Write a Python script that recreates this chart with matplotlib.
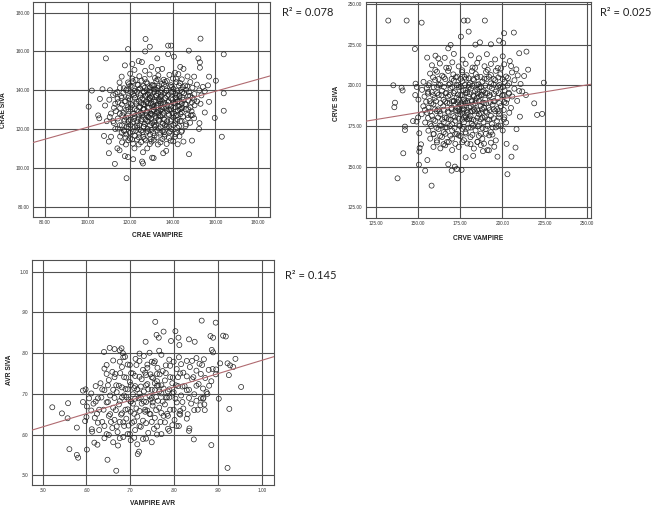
import matplotlib.pyplot as plt
import numpy as np

# ---- values ----
# CRAE panel
crae_vampire = [
    100.5, 102, 105.8, 105, 105.5, 108.6, 110, 112.8, 118.3, 119,
    127.2, 129.2, 132.7, 137.8, 139.2, 137.8, 140.5, 147.5, 153, 152,
    152.7, 152.7, 163.9, 160.2, 163.9, 163.9, 163, 159.7, 152.3, 147.6,
    149, 145, 136.9, 135.5, 125.6, 126, 130.3, 131, 121.4, 119,
    117.5, 115, 114, 111, 110, 107.7, 109, 107, 110.5, 115,
    117.5, 121, 124, 125.5, 127, 122, 120, 116, 130, 133,
    135, 127, 143.5, 145, 150, 141, 156.5, 157, 155, 157,
    155, 153, 150, 152.5, 150, 148.5, 146, 144, 141, 139,
    136, 133, 130, 128, 126, 124, 122, 120, 118, 116,
    113, 112, 111, 113, 112, 114, 116, 117, 119, 121,
    124.3, 126.8, 129.1, 131.6, 133.2, 135.7, 138.4, 140.1, 142.6, 144.2, 146.9,
    119.4, 121.2, 123.7, 125.3, 128.1, 130.6, 132.2, 134.8, 136.3, 139.1, 141.7, 143.4, 145.8, 148.2, 151.3,
    115.2, 118.3, 120.7, 122.1, 124.6, 126.2, 127.8, 129.4, 131.2, 133.5, 135.1, 136.9, 138.6, 140.3, 142.1, 144.7, 146.3, 149.2, 152.4, 154.1,
    113.1, 116.8, 119.3, 121.4, 123.2, 124.9, 126.5, 128.3, 129.8, 131.4, 133.1, 134.6, 136.2, 137.9, 139.4, 141.2, 143.1, 145.3, 147.2, 150.1, 153.4,
    110.2, 114.1, 117.8, 119.9, 122.3, 124.1, 125.8, 127.4, 128.9, 130.4, 131.9, 133.4, 134.8, 136.5, 138.1, 139.8, 141.6, 143.2, 145.1, 147.3, 149.2, 151.4,
    108.2, 112.4, 116.1, 118.8, 120.9, 122.8, 124.7, 126.6, 128.2, 129.7, 131.3, 132.9, 134.4, 135.9, 137.4, 139.2, 141.1, 142.8, 144.4, 146.2, 148.3, 150.2,
    113.3, 116.9, 119.2, 121.3, 123.1, 124.8, 126.3, 127.9, 129.4, 131.1, 132.6, 134.2, 135.7, 137.3, 139.1, 140.6, 142.4, 144.2, 146.1, 148.8,
    110.4, 114.2, 116.3, 118.1, 120.2, 122.1, 123.9, 125.7, 127.2, 128.8, 130.3, 132.1, 134.2, 136.1, 138.2, 140.3, 142.2, 144.8, 147.1, 149.3,
    112.3, 115.1, 117.2, 119.1, 121.3, 123.2, 125.1, 126.8, 128.4, 130.2, 132.1, 133.6, 135.3, 137.1, 139.2, 141.1, 143.4, 146.2, 148.1,
    114.2, 117.1, 119.3, 121.2, 123.3, 125.1, 126.4, 128.2, 130.1, 131.6, 133.3, 135.2, 137.1, 139.3, 142.1, 144.3,
    115.3, 118.2, 120.1, 122.3, 124.2, 126.1, 127.6, 129.3, 131.4, 134.1, 136.2, 138.3, 141.2, 143.1,
    116.2, 119.1, 121.3, 123.2, 125.1, 127.3, 129.2, 131.1, 134.2, 137.1, 140.2, 142.3,
    128.3, 129.2, 130.4, 131.1, 132.3, 133.2, 134.1, 127.1, 126.2, 128.4, 130.2, 132.4, 129.3, 131.2, 127.4, 133.3, 135.2, 134.3, 136.1, 126.4,
    142.2, 143.1, 144.2, 141.3, 143.3, 142.1, 144.4, 141.2,
    122.5, 127.6, 132.9, 137.2, 141.5,
    120.1, 123.4, 126.9, 130.1, 132.8, 135.9, 139.6, 142.9, 146.8,
    118.1, 120.6, 123.9, 126.3, 129.2, 131.8, 134.5, 137.1, 140.2, 143.8, 147.6,
    115.8, 119.1, 121.9, 124.6, 127.1, 129.4, 132.2, 134.1, 137.3, 139.1, 141.9, 144.5, 148.1,
    114.3, 117.4, 120.3, 122.9, 125.2, 127.9, 130.8, 133.8, 135.3, 137.8, 140.4, 142.3, 145.8, 148.9,
    115.3, 118.1, 120.2, 122.1, 124.1, 126.1, 128.8, 130.9, 132.3, 134.9, 136.8, 138.4, 140.2, 143.9, 147.3,
    115.1, 118.9, 121.9, 124.2, 125.6, 127.6, 129.9, 131.8, 133.2, 135.1, 137.9, 139.8, 141.4, 143.6, 146.9,
    117.3, 119.2, 121.8, 123.3, 125.3, 127.8, 129.9, 131.3, 133.3, 135.8, 137.3, 139.3, 141.3, 144.1,
    116.1, 118.3, 120.1, 122.2, 124.3, 126.2, 129.3, 131.2, 134.3, 136.3, 138.2, 140.3, 142.9,
    117.2, 119.8, 122.8, 125.8, 128.3, 130.8, 132.8, 135.8, 138.8, 141.8,
    117.8, 120.9, 124.1, 126.8, 129.6, 132.4, 135.1, 138.2,
]
crae_siva = [
    131.5, 139.8, 135.5, 127, 125.5, 156.4, 107.5, 102, 94.6, 161.2,
    166.4, 162.4, 156.4, 163, 163, 158.6, 157.3, 160.4, 166.6, 156.4,
    154.4, 151.6, 158.5, 144.9, 138.4, 129.4, 116, 125.7, 120, 107,
    114, 113.5, 108.7, 107.5, 103.2, 102.2, 105.2, 105, 104.4, 105.5,
    106, 109, 110, 116, 113.5, 116.4, 124, 140.5, 140, 144,
    152.8, 153.5, 155, 154.5, 160, 150.5, 148.5, 147, 152, 150.5,
    151, 150, 152, 151, 147, 149, 142.5, 147, 139.5, 134,
    128.5, 133, 135, 123, 125.5, 127, 121.5, 118.5, 116, 114,
    116, 112, 113.5, 110, 108, 112, 110, 115, 112, 118,
    120, 124, 128, 133, 137.5, 139, 136, 141, 144, 146,
    147.2, 145.8, 148.1, 146.3, 147.6, 145.4, 147.9, 146.0, 148.3, 145.6, 147.1,
    143.1, 144.6, 142.7, 144.9, 143.4, 142.5, 144.8, 143.2, 144.3, 142.6, 144.1, 143.7, 142.4, 144.2, 142.9,
    141.2, 140.3, 141.8, 139.6, 140.9, 142.1, 139.9, 141.5, 140.4, 142.2, 141.0, 139.7, 141.9, 140.6, 139.8, 141.6, 140.2, 141.3, 139.9, 141.7,
    138.2, 138.7, 136.9, 138.1, 139.2, 137.4, 138.8, 137.9, 136.8, 139.1, 138.3, 137.1, 138.6, 137.6, 139.0, 138.2, 136.9, 138.4, 137.2, 138.0, 137.3,
    135.1, 135.6, 134.2, 135.3, 136.1, 134.4, 135.8, 133.9, 135.2, 136.2, 134.1, 135.5, 134.6, 136.0, 134.3, 135.1, 136.2, 133.8, 135.0, 134.7, 136.1, 134.2,
    132.1, 130.9, 132.6, 131.2, 132.2, 133.1, 131.4, 132.7, 130.8, 133.2, 131.6, 132.3, 133.0, 130.9, 132.4, 131.6, 133.2, 131.9, 130.8, 132.6, 131.1, 132.2,
    129.2, 128.4, 130.1, 127.9, 129.6, 128.2, 130.2, 129.1, 127.8, 129.9, 128.6, 129.7, 128.1, 129.3, 130.1, 127.9, 129.5, 128.7, 130.2, 129.1,
    126.2, 125.4, 127.1, 125.9, 124.8, 126.6, 125.3, 127.2, 124.9, 126.1, 127.4, 125.6, 126.8, 124.7, 127.1, 125.9, 124.8, 126.4, 125.6, 127.2,
    123.1, 121.9, 124.2, 122.4, 123.6, 121.8, 124.1, 122.6, 123.9, 123.1, 121.9, 124.2, 122.8, 122.3, 124.1, 122.9, 124.0, 122.4, 123.2,
    120.2, 119.4, 121.1, 118.8, 120.6, 119.2, 121.2, 120.1, 119.6, 121.1, 120.3, 118.9, 121.2, 119.9, 120.6, 119.1,
    116.1, 117.2, 118.1, 116.4, 117.6, 115.9, 118.2, 117.1, 116.6, 118.1, 117.2, 118.2, 117.4, 116.2,
    113.1, 114.2, 112.4, 114.6, 113.2, 114.1, 112.2, 114.4, 113.1, 112.3, 113.6, 112.1,
    133.2, 136.1, 131.3, 134.2, 137.1, 129.8, 135.3, 137.2, 132.8, 126.2, 129.1, 132.3, 139.1, 142.2, 128.3, 126.9, 131.2, 140.1, 133.3, 130.2,
    134.2, 137.1, 133.1, 136.2, 130.1, 127.2, 139.1, 131.2,
    145.3, 144.1, 145.6, 144.7, 145.9,
    142.3, 142.8, 141.3, 142.6, 141.1, 142.9, 141.7, 142.4, 141.9,
    139.9, 138.9, 140.3, 139.2, 139.8, 140.4, 138.8, 139.9, 139.3, 140.2, 138.9,
    136.9, 136.0, 137.3, 136.2, 137.1, 135.9, 137.4, 136.5, 137.0, 135.8, 137.3, 136.3, 137.1,
    133.8, 134.2, 132.9, 134.1, 133.2, 133.9, 132.8, 134.3, 133.1, 133.8, 133.3, 134.2, 132.9, 133.7,
    130.8, 129.9, 131.1, 130.2, 131.2, 130.0, 130.9, 129.8, 131.1, 130.3, 130.8, 129.9, 131.0, 130.4, 130.1,
    127.9, 126.9, 128.1, 127.0, 128.2, 127.2, 127.9, 126.8, 128.1, 127.1, 127.8, 128.2, 126.9, 127.7, 127.2,
    124.9, 124.0, 125.2, 123.8, 125.0, 124.2, 125.1, 123.9, 124.8, 125.2, 124.0, 124.9, 124.3, 124.1,
    121.9, 121.0, 122.1, 120.9, 122.0, 121.2, 121.8, 122.2, 121.0, 121.9, 121.1, 122.1, 121.4,
    118.9, 118.0, 119.1, 118.2, 118.9, 117.9, 119.2, 118.3, 118.8, 118.1,
    115.5, 114.6, 115.7, 114.9, 114.7, 115.6, 114.8, 115.4,
]
crae_fit = (90.0, 0.309)   # intercept, slope of the drawn fit line
crae_r2 = "0.078"

# CRVE panel
crve_vampire = [
    132.3, 143.2, 152.1, 177.2, 179.4, 180, 189.6, 175.4, 201, 206.8,
    198.1, 200.5, 193.2, 186.7, 184, 169.3, 167.9, 148.1, 155.4, 162,
    214.3, 210, 215.3, 212.9, 224.6, 218.9, 220.6, 223.6, 214, 210,
    210.4, 208.4, 207.8, 205.4, 203, 202.5, 197.1, 192, 188.5, 182.7,
    178.2, 171.8, 173, 169.9, 167.9, 175.8, 158, 154.2, 150.5, 150.7,
    150.9, 151.7, 141.2, 137.8, 142.2, 142.2, 135.9, 136.3, 140.2, 135.3,
    140.8, 148.3, 149.2, 156, 149.1, 150, 147, 150.7, 155.5, 148.5,
    160.3, 165.8, 171.2, 176.4, 181.3, 186.1, 190.8, 195.7, 200.2, 204.4,
    158.2, 162.9, 166.7, 170.3, 174.1, 178.2, 182.3, 185.1, 189.4, 193.2, 197.3, 201.1, 205.2, 208.3,
    157.1, 161.2, 164.3, 167.8, 170.9, 173.2, 176.1, 178.8, 181.9, 184.2, 187.1, 190.3, 193.2, 196.1, 198.8, 202.2, 205.7, 209.1,
    153.2, 156.8, 160.1, 163.2, 166.1, 168.8, 171.2, 173.9, 176.2, 178.3, 180.8, 183.2, 185.9, 188.1, 190.7, 193.3, 195.8, 198.2, 201.3, 204.1, 207.2, 210.8,
    152.3, 155.2, 158.1, 161.3, 164.2, 166.8, 169.2, 171.8, 174.3, 176.9, 179.1, 181.4, 183.8, 186.2, 188.9, 191.1, 193.8, 196.2, 198.9, 201.3, 203.8, 207.1, 211.8,
    150.2, 153.8, 156.9, 159.8, 162.2, 165.1, 167.8, 170.2, 172.8, 175.1, 177.2, 179.9, 182.1, 184.8, 187.2, 189.8, 192.1, 194.8, 197.2, 199.9, 202.8, 205.9, 208.8,
    153.1, 156.2, 159.1, 161.8, 164.9, 167.2, 169.8, 172.1, 174.2, 176.3, 178.1, 180.2, 182.8, 185.1, 187.2, 189.3, 191.8, 194.2, 196.9, 199.1, 202.2, 205.1,
    152.1, 155.3, 158.2, 161.1, 163.2, 165.8, 168.1, 170.9, 173.2, 175.1, 177.3, 179.2, 181.1, 183.8, 186.2, 188.1, 190.8, 193.2, 195.8, 198.1, 201.2, 204.1,
    154.2, 157.1, 160.2, 162.8, 165.2, 168.1, 170.2, 172.1, 174.8, 177.2, 179.1, 181.8, 184.2, 186.1, 188.8, 191.2, 193.8, 196.8, 199.1, 202.2,
    156.1, 159.2, 162.1, 165.2, 167.1, 170.2, 173.1, 176.2, 178.1, 181.2, 184.1, 187.2, 190.1, 193.2, 196.1, 200.2,
    157.2, 161.1, 164.2, 167.1, 170.2, 174.1, 177.2, 181.1, 185.2, 188.1, 192.2, 196.1,
    159.1, 163.2, 166.1, 170.2, 174.1, 179.2, 183.1, 187.2, 191.1, 195.2,
    175.1, 177.2, 179.1, 181.2, 183.1, 178.2, 176.1, 180.2, 174.1, 182.2, 185.1, 187.2, 184.1, 173.2, 178.1, 189.1, 186.2, 171.1, 188.2, 180.1,
    160.2, 168.3, 176.2, 183.8, 191.3, 199.2,
    158.9, 162.1, 165.3, 169.9, 172.3, 175.2, 177.6, 180.1, 182.6, 185.1, 189.3, 192.1, 194.8, 197.6, 200.2, 203.3,
    156.2, 159.3, 162.2, 165.3, 168.1, 170.3, 172.9, 175.3, 177.8, 180.1, 182.3, 184.9, 187.3, 189.9, 192.4, 194.9, 197.4, 200.3, 203.1,
    155.8, 158.9, 161.3, 163.9, 166.3, 168.9, 171.1, 173.6, 176.1, 178.2, 180.6, 182.9, 185.3, 187.8, 189.9, 192.6, 194.9, 197.8, 200.6, 203.9,
    154.8, 157.8, 160.6, 163.3, 166.1, 168.7, 171.3, 173.4, 175.7, 177.7, 179.4, 181.8, 183.9, 186.1, 188.3, 190.3, 192.9, 195.3, 198.2, 201.1,
    154.1, 157.2, 160.1, 162.7, 165.2, 167.6, 169.9, 172.2, 174.6, 176.8, 178.9, 181.1, 183.2, 185.6, 187.9, 190.1, 192.4, 194.9, 197.7, 200.8,
    155.9, 159.1, 161.9, 164.3, 166.9, 169.3, 171.9, 174.1, 176.2, 178.4, 180.6, 182.9, 185.2, 187.3, 189.6, 192.2, 194.9, 197.8, 200.9,
    157.8, 160.9, 163.8, 166.2, 168.9, 171.6, 174.4, 177.1, 179.8, 182.6, 185.4, 188.2, 191.2, 194.2, 197.6,
    159.2, 163.1, 166.2, 169.1, 172.1, 175.2, 178.3, 182.2, 186.1, 190.2, 194.1,
    161.2, 165.1, 168.2, 172.1, 176.2, 181.1, 185.2, 189.1, 193.2,
]
crve_siva = [
    239.8, 239.8, 238.5, 239.8, 239.8, 233, 239.8, 229.9, 232, 232.4,
    227.5, 226, 225.2, 226.4, 225, 224.8, 222.7, 222.3, 217, 216.5,
    220.7, 219.7, 209.6, 205.7, 201.6, 188.9, 181.8, 182.4, 194, 196.5,
    180.7, 173, 161.7, 156.1, 145.3, 164, 156.1, 160, 159.5, 156.6,
    155.7, 150, 148.5, 147.5, 151.4, 148, 138.3, 147.5, 151.2, 159.2,
    161.5, 163.7, 158.2, 142.8, 172.5, 174.6, 186.5, 189.3, 198.5, 200,
    196.8, 194, 199, 196, 177.7, 180.2, 178, 170.5, 154, 201,
    218.2, 216.9, 219.3, 215.8, 218.4, 216.6, 219.1, 215.9, 217.8, 214.9,
    212.3, 213.4, 210.8, 214.1, 211.6, 213.2, 210.9, 213.8, 211.7, 213.1, 210.6, 212.9, 211.8, 209.8,
    207.2, 208.3, 205.9, 208.8, 206.7, 205.3, 208.1, 206.2, 208.7, 206.9, 205.2, 208.2, 206.3, 208.9, 206.8, 205.4, 207.9, 206.1,
    202.1, 201.3, 203.2, 200.4, 203.8, 201.1, 202.9, 200.3, 202.4, 204.1, 201.2, 203.3, 200.6, 202.2, 203.9, 201.1, 203.2, 200.2, 202.1, 201.2, 203.1, 200.8,
    197.2, 198.3, 195.8, 198.9, 196.7, 195.3, 198.1, 196.2, 198.8, 196.9, 195.4, 198.1, 196.3, 198.9, 196.8, 195.1, 198.2, 196.1, 198.7, 196.8, 195.4, 197.9, 196.2,
    191.2, 193.1, 190.3, 192.2, 194.1, 191.1, 193.2, 190.2, 192.3, 193.9, 191.2, 193.1, 190.4, 192.2, 194.0, 191.2, 193.3, 190.1, 192.2, 193.8, 191.3, 193.1, 190.4,
    187.1, 186.2, 188.3, 185.2, 187.1, 189.2, 186.1, 188.3, 185.3, 187.2, 189.1, 186.3, 188.2, 185.1, 187.3, 189.0, 186.2, 188.1, 185.3, 187.2, 189.1, 186.1,
    182.2, 183.1, 181.2, 184.1, 182.3, 180.2, 183.2, 181.1, 184.2, 182.1, 180.3, 183.2, 181.1, 184.0, 182.2, 180.1, 183.3, 181.2, 184.1, 182.2, 180.3, 183.1,
    177.1, 176.2, 178.1, 175.2, 177.3, 179.1, 176.1, 178.2, 175.1, 177.2, 179.1, 176.3, 178.2, 175.1, 177.3, 179.0, 176.2, 178.1, 175.2, 177.1,
    172.1, 170.2, 173.1, 171.2, 174.1, 172.2, 170.1, 173.2, 171.1, 174.0, 172.2, 170.3, 173.1, 171.2, 174.1, 172.2,
    167.2, 166.1, 168.2, 165.1, 167.2, 169.1, 166.2, 168.1, 165.2, 167.1, 169.2, 166.1,
    162.1, 161.2, 163.1, 160.2, 162.1, 164.2, 161.1, 163.2, 160.1, 162.2,
    188.2, 185.1, 190.2, 187.1, 193.2, 197.1, 183.2, 179.1, 191.2, 184.1, 197.2, 183.1, 190.2, 186.1, 181.2, 186.2, 193.1, 190.2, 196.1, 200.2,
    209.4, 210.6, 209.2, 210.7, 209.5, 210.4,
    204.9, 203.8, 205.1, 203.9, 204.9, 204.0, 205.2, 204.3, 203.8, 205.0, 204.1, 205.2, 203.9, 204.8, 203.7, 204.5,
    200.0, 198.8, 200.2, 199.0, 200.3, 198.9, 200.0, 199.2, 200.3, 198.8, 199.7, 200.2, 198.9, 199.9, 199.1, 200.3, 199.4, 198.9, 199.9,
    194.9, 193.9, 195.2, 193.8, 195.0, 194.0, 195.3, 194.3, 193.9, 195.2, 194.6, 193.8, 195.0, 194.1, 195.3, 193.9, 194.7, 195.2, 194.0, 194.8,
    189.9, 188.9, 190.2, 189.0, 190.0, 188.9, 190.3, 189.5, 188.8, 190.2, 189.1, 190.0, 188.9, 190.3, 189.4, 188.8, 189.8, 190.2, 189.0, 189.7,
    184.9, 183.9, 185.2, 184.0, 185.0, 183.8, 185.3, 184.5, 183.9, 185.2, 184.7, 183.8, 185.0, 184.1, 185.3, 183.9, 184.7, 185.2, 184.0, 184.8,
    179.9, 178.9, 180.2, 179.0, 180.0, 178.8, 180.3, 179.5, 178.9, 180.2, 179.7, 178.8, 180.0, 179.1, 180.3, 178.9, 179.7, 180.2, 179.0,
    174.9, 173.9, 175.2, 174.0, 175.0, 173.8, 175.3, 174.5, 173.9, 175.2, 174.7, 173.8, 175.0, 174.1, 174.8,
    169.9, 168.9, 170.2, 169.0, 170.0, 168.8, 170.3, 169.5, 168.9, 170.2, 169.7,
    164.9, 163.8, 165.1, 164.0, 165.0, 163.8, 165.2, 164.1, 164.7,
]
crve_fit = (157.7, 0.170)
crve_r2 = "0.025"

# AVR panel
avr_vampire = [
    0.522, 0.544, 0.558, 0.557, 0.561, 0.578, 0.581, 0.578, 0.592, 0.592,
    0.598, 0.601, 0.600, 0.597, 0.612, 0.613, 0.618, 0.625, 0.640, 0.653,
    0.646, 0.648, 0.668, 0.672, 0.664, 0.676, 0.680, 0.683, 0.684, 0.717,
    0.720, 0.735, 0.757, 0.760, 0.765, 0.776, 0.803, 0.810, 0.812, 0.793,
    0.834, 0.847, 0.863, 0.895, 0.883, 0.889, 0.912, 0.918, 0.886, 0.889,
    0.905, 0.922, 0.928, 0.935, 0.940, 0.925, 0.953, 0.902, 0.926, 0.922,
    0.885, 0.845, 0.835, 0.834, 0.812, 0.786, 0.896, 0.895, 0.888, 0.885,
    0.880, 0.876, 0.867, 0.860, 0.870,
    0.661, 0.688, 0.712, 0.731, 0.749, 0.771, 0.789, 0.811, 0.829, 0.851, 0.868, 0.744, 0.766, 0.721,
    0.641, 0.659, 0.681, 0.702, 0.714, 0.729, 0.746, 0.762, 0.774, 0.791, 0.806, 0.821, 0.836, 0.851, 0.864, 0.879, 0.694, 0.754,
    0.632, 0.651, 0.668, 0.686, 0.699, 0.711, 0.726, 0.739, 0.752, 0.764, 0.779, 0.796, 0.809, 0.824, 0.841, 0.856, 0.871, 0.736, 0.761,
    0.611, 0.626, 0.641, 0.654, 0.669, 0.681, 0.694, 0.706, 0.719, 0.731, 0.744, 0.756, 0.771, 0.784, 0.799, 0.816, 0.829, 0.846, 0.861, 0.874, 0.709, 0.759,
    0.601, 0.616, 0.629, 0.646, 0.661, 0.674, 0.689, 0.701, 0.714, 0.726, 0.739, 0.751, 0.766, 0.779, 0.791, 0.806, 0.821, 0.839, 0.854, 0.869,
    0.619, 0.636, 0.651, 0.664, 0.679, 0.691, 0.704, 0.716, 0.729, 0.744, 0.756, 0.769, 0.786, 0.801, 0.814, 0.829,
    0.629, 0.646, 0.659, 0.671, 0.686, 0.699, 0.711, 0.724, 0.741, 0.754, 0.771, 0.789, 0.806,
    0.641, 0.661, 0.684, 0.701, 0.716, 0.729, 0.749,
    0.721, 0.731, 0.741, 0.751, 0.761, 0.771, 0.781, 0.791, 0.701, 0.711, 0.739, 0.766, 0.776, 0.786, 0.696, 0.681, 0.706, 0.756, 0.746, 0.734, 0.686, 0.676, 0.666, 0.796, 0.809,
    0.676, 0.699, 0.721, 0.739, 0.756, 0.781, 0.799, 0.816, 0.841, 0.858,
    0.646, 0.664, 0.677, 0.691, 0.706, 0.721, 0.734, 0.749, 0.767, 0.781, 0.797, 0.814, 0.829, 0.844, 0.861,
    0.621, 0.636, 0.649, 0.661, 0.674, 0.689, 0.701, 0.716, 0.724, 0.736, 0.749, 0.761, 0.776, 0.789, 0.804, 0.819, 0.834, 0.851, 0.866,
    0.606, 0.621, 0.634, 0.649, 0.664, 0.676, 0.691, 0.701, 0.711, 0.724, 0.736, 0.749, 0.763, 0.774, 0.789, 0.803, 0.819, 0.834, 0.851, 0.866,
    0.611, 0.624, 0.639, 0.654, 0.667, 0.681, 0.694, 0.709, 0.721, 0.734, 0.746, 0.759, 0.771, 0.784, 0.799, 0.814, 0.831, 0.846,
    0.626, 0.641, 0.656, 0.669, 0.684, 0.696, 0.709, 0.721, 0.736, 0.749, 0.761, 0.779, 0.796, 0.811,
    0.651, 0.676, 0.694, 0.709, 0.736, 0.761,
]
avr_siva = [
    0.667, 0.652, 0.677, 0.640, 0.564, 0.550, 0.543, 0.617, 0.680, 0.708,
    0.711, 0.563, 0.643, 0.633, 0.613, 0.607, 0.580, 0.575, 0.803, 0.813,
    0.771, 0.538, 0.511, 0.573, 0.810, 0.807, 0.812, 0.800, 0.790, 0.552,
    0.558, 0.828, 0.877, 0.845, 0.838, 0.853, 0.854, 0.838, 0.820, 0.830,
    0.834, 0.828, 0.880, 0.875, 0.842, 0.838, 0.843, 0.841, 0.808, 0.802,
    0.775, 0.775, 0.770, 0.766, 0.786, 0.746, 0.717, 0.688, 0.663, 0.518,
    0.574, 0.588, 0.615, 0.609, 0.651, 0.614, 0.760, 0.748, 0.761, 0.731,
    0.720, 0.700, 0.690, 0.672, 0.660,
    0.782, 0.791, 0.786, 0.793, 0.779, 0.796, 0.784, 0.790, 0.781, 0.788, 0.785, 0.801, 0.806, 0.799,
    0.762, 0.754, 0.766, 0.751, 0.771, 0.759, 0.748, 0.764, 0.756, 0.769, 0.761, 0.752, 0.766, 0.757, 0.771, 0.759, 0.772, 0.776,
    0.726, 0.734, 0.721, 0.741, 0.729, 0.719, 0.736, 0.724, 0.739, 0.721, 0.733, 0.726, 0.741, 0.719, 0.736, 0.724, 0.739, 0.746, 0.731,
    0.701, 0.689, 0.709, 0.696, 0.704, 0.691, 0.711, 0.699, 0.689, 0.706, 0.694, 0.709, 0.701, 0.691, 0.704, 0.696, 0.709, 0.699, 0.689, 0.704, 0.714, 0.692,
    0.669, 0.676, 0.661, 0.679, 0.666, 0.674, 0.661, 0.681, 0.664, 0.676, 0.659, 0.679, 0.666, 0.674, 0.661, 0.679, 0.664, 0.676, 0.661, 0.674,
    0.641, 0.631, 0.646, 0.636, 0.649, 0.639, 0.629, 0.644, 0.634, 0.651, 0.641, 0.631, 0.646, 0.636, 0.649, 0.639,
    0.611, 0.601, 0.616, 0.606, 0.621, 0.601, 0.611, 0.619, 0.604, 0.614, 0.601, 0.609, 0.621,
    0.591, 0.581, 0.594, 0.586, 0.576, 0.589, 0.581,
    0.701, 0.681, 0.711, 0.671, 0.749, 0.721, 0.691, 0.741, 0.656, 0.744, 0.764, 0.706, 0.646, 0.706, 0.686, 0.716, 0.676, 0.726, 0.686, 0.656, 0.696, 0.631, 0.749, 0.701, 0.719,
    0.779, 0.771, 0.781, 0.772, 0.780, 0.770, 0.779, 0.773, 0.781, 0.774,
    0.749, 0.741, 0.751, 0.740, 0.750, 0.742, 0.752, 0.741, 0.748, 0.751, 0.740, 0.750, 0.743, 0.741, 0.749,
    0.719, 0.711, 0.721, 0.710, 0.720, 0.712, 0.722, 0.711, 0.718, 0.721, 0.710, 0.720, 0.713, 0.711, 0.721, 0.718, 0.710, 0.720, 0.713,
    0.689, 0.681, 0.691, 0.680, 0.690, 0.682, 0.692, 0.681, 0.688, 0.691, 0.680, 0.690, 0.683, 0.681, 0.691, 0.688, 0.680, 0.690, 0.683, 0.688,
    0.659, 0.651, 0.661, 0.650, 0.660, 0.652, 0.662, 0.651, 0.658, 0.661, 0.650, 0.660, 0.653, 0.651, 0.661, 0.658, 0.650, 0.660,
    0.629, 0.621, 0.631, 0.620, 0.630, 0.622, 0.632, 0.621, 0.628, 0.631, 0.620, 0.630, 0.623, 0.621,
    0.599, 0.591, 0.601, 0.592, 0.590, 0.600,
]
avr_fit = (0.4553, 0.327)
avr_r2 = "0.145"

crae_ticks = [80, 100, 120, 140, 160, 180]
crve_ticks = [125, 150, 175, 200, 225, 250]
avr_ticks = [0.5, 0.6, 0.7, 0.8, 0.9, 1.0]


def spss_fmt(v):
    s = f"{v:.2f}"
    return s[1:] if s.startswith("0") else s


def draw_panel(ax, x, y, fit, xlim, ylim, ticks, xlabel, ylabel, xlab_at, ylab_at):
    assert len(x) == len(y)
    ax.set_xlim(xlim)
    ax.set_ylim(ylim)
    ax.set_xticks(ticks)
    ax.set_yticks(ticks)
    ax.set_xticklabels([spss_fmt(t) for t in ticks])
    ax.set_yticklabels([spss_fmt(t) for t in ticks])
    ax.tick_params(length=0, pad=2.5, labelsize=3.4, colors="#333333")
    ax.grid(True, color="#505050", lw=0.8)
    ax.set_axisbelow(True)
    for sp in ax.spines.values():
        sp.set_color("#505050")
        sp.set_linewidth(0.8)
    ax.scatter(x, y, s=13, facecolors="none", edgecolors="#222222",
               linewidths=0.5, zorder=3)
    xs = np.array(xlim)
    ax.plot(xs, fit[0] + fit[1] * xs, color="#b06a70", lw=0.8, zorder=4)
    ax.set_xlabel(xlabel, fontsize=4.8, fontweight="bold", color="#222222")
    ax.set_ylabel(ylabel, fontsize=4.8, fontweight="bold", color="#222222")
    ax.xaxis.set_label_coords(*xlab_at)
    ax.yaxis.set_label_coords(*ylab_at)


plt.rcParams["font.family"] = ["Liberation Sans", "DejaVu Sans"]
fig = plt.figure(figsize=(6.55, 5.09), dpi=100)

ax1 = fig.add_axes([0.0504, 0.5737, 0.3618, 0.4224])
draw_panel(ax1, crae_vampire, crae_siva, crae_fit, (74.4, 185.6), (74.6, 185.5),
           crae_ticks, "CRAE VAMPIRE", "CRAE SIVA", (0.523, -0.07), (-0.108, 0.498))

ax2 = fig.add_axes([0.5583, 0.5717, 0.3435, 0.4250])
draw_panel(ax2, crve_vampire, crve_siva, crve_fit, (118.9, 252.4), (118.4, 251.4),
           crve_ticks, "CRVE VAMPIRE", "CRVE SIVA", (0.499, -0.079), (-0.116, 0.532))

ax3 = fig.add_axes([0.0484, 0.0472, 0.3699, 0.4420])
draw_panel(ax3, avr_vampire, avr_siva, avr_fit, (0.475, 1.028), (0.476, 1.029),
           avr_ticks, "VAMPIRE AVR", "AVR SIVA", (0.50, -0.068), (-0.079, 0.511))

r2_style = dict(fontsize=8, family=["Lato", "DejaVu Sans"], color="#222222", va="center")
fig.text(0.4305, 0.9745, "R\u00b2 = " + crae_r2, **r2_style)
fig.text(0.916, 0.9745, "R\u00b2 = " + crve_r2, **r2_style)
fig.text(0.435, 0.4578, "R\u00b2 = " + avr_r2, **r2_style)

fig.savefig("out.png", dpi=100)
